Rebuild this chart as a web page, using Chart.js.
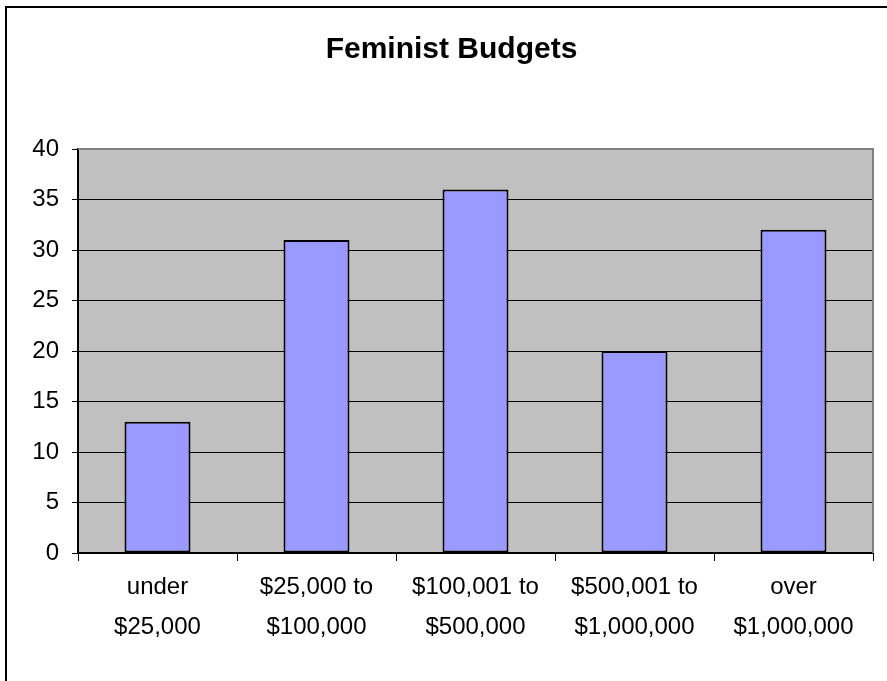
<!DOCTYPE html>
<html>
<head>
<meta charset="utf-8">
<title>Feminist Budgets</title>
<script src="https://cdn.jsdelivr.net/npm/chart.js@4"></script>
<style>
    html, body { margin: 0; padding: 0; background: #ffffff; }
    #wrap { position: relative; width: 887px; height: 681px; }
</style>
</head>
<body>
<div id="wrap"><canvas id="budgetChart" width="887" height="681"></canvas></div>
<script>
// Feminist Budgets - bar chart

const categories = [
    ['under', '$25,000'],
    ['$25,000 to', '$100,000'],
    ['$100,001 to', '$500,000'],
    ['$500,001 to', '$1,000,000'],
    ['over', '$1,000,000']
];
const counts = [13, 31, 36, 20, 32];
const yTicks = [0, 5, 10, 15, 20, 25, 30, 35, 40];

// plot background, gray top/right edges and the outer frame
const excelFrame = {
    id: 'excelFrame',
    beforeDraw(chart) {
        const c = chart.ctx;
        const a = chart.chartArea;
        c.save();
        c.fillStyle = '#ffffff';
        c.fillRect(0, 0, chart.width, chart.height);
        c.fillStyle = '#c0c0c0';
        c.fillRect(a.left, a.top, a.right - a.left, a.bottom - a.top);
        c.strokeStyle = '#000000';
        c.lineWidth = 2;
        c.beginPath();
        c.moveTo(6, chart.height);
        c.lineTo(6, 7);
        c.lineTo(chart.width, 7);
        c.stroke();
        c.restore();
    },
    beforeDatasetsDraw(chart) {
        const c = chart.ctx;
        const a = chart.chartArea;
        c.save();
        c.strokeStyle = '#808080';
        c.lineWidth = 2;
        c.beginPath();
        c.moveTo(a.left, a.top);
        c.lineTo(a.right, a.top);
        c.lineTo(a.right, a.bottom);
        c.stroke();
        c.restore();
    }
};

const ctx = document.getElementById('budgetChart').getContext('2d');

new Chart(ctx, {
    type: 'bar',
    data: {
        labels: categories,
        datasets: [{
            label: 'Budgets',
            data: counts,
            backgroundColor: '#9999ff',
            borderColor: '#000000',
            borderWidth: 2,
            borderSkipped: false,
            barPercentage: 0.415,
            categoryPercentage: 1.0
        }]
    },
    options: {
        responsive: false,
        animation: false,
        layout: {
            padding: { left: 30, right: 14, top: 0, bottom: 0 }
        },
        plugins: {
            legend: { display: false },
            tooltip: { enabled: false },
            title: {
                display: true,
                text: 'Feminist Budgets',
                color: '#000000',
                font: { family: 'Liberation Sans, Arial, sans-serif', size: 30, weight: 'bold', lineHeight: 1.2 },
                padding: { top: 32, bottom: 81 }
            }
        },
        scales: {
            x: {
                offset: true,
                grid: {
                    offset: true,
                    drawOnChartArea: false,
                    drawTicks: true,
                    tickLength: 8,
                    tickColor: '#000000',
                    tickWidth: 1
                },
                border: { display: true, color: '#000000', width: 2 },
                ticks: {
                    color: '#000000',
                    padding: 6,
                    maxRotation: 0,
                    autoSkip: false,
                    font: { family: 'Liberation Sans, Arial, sans-serif', size: 24, lineHeight: 1.67 }
                },
                afterFit: function(scale) {
                    scale.height = 128;
                }
            },
            y: {
                min: 0,
                max: 40,
                afterBuildTicks: function(scale) {
                    scale.ticks = yTicks.map(v => ({ value: v }));
                },
                grid: {
                    color: function(c) {
                        return c.tick && c.tick.value === 40 ? '#808080' : '#000000';
                    },
                    lineWidth: 1,
                    tickLength: 6,
                    tickColor: '#000000'
                },
                border: { display: true, color: '#000000', width: 2 },
                ticks: {
                    color: '#000000',
                    padding: 13,
                    font: { family: 'Liberation Sans, Arial, sans-serif', size: 24 }
                },
                afterFit: function(scale) {
                    scale.width = 48;
                }
            }
        }
    },
    plugins: [excelFrame]
});
</script>
</body>
</html>
